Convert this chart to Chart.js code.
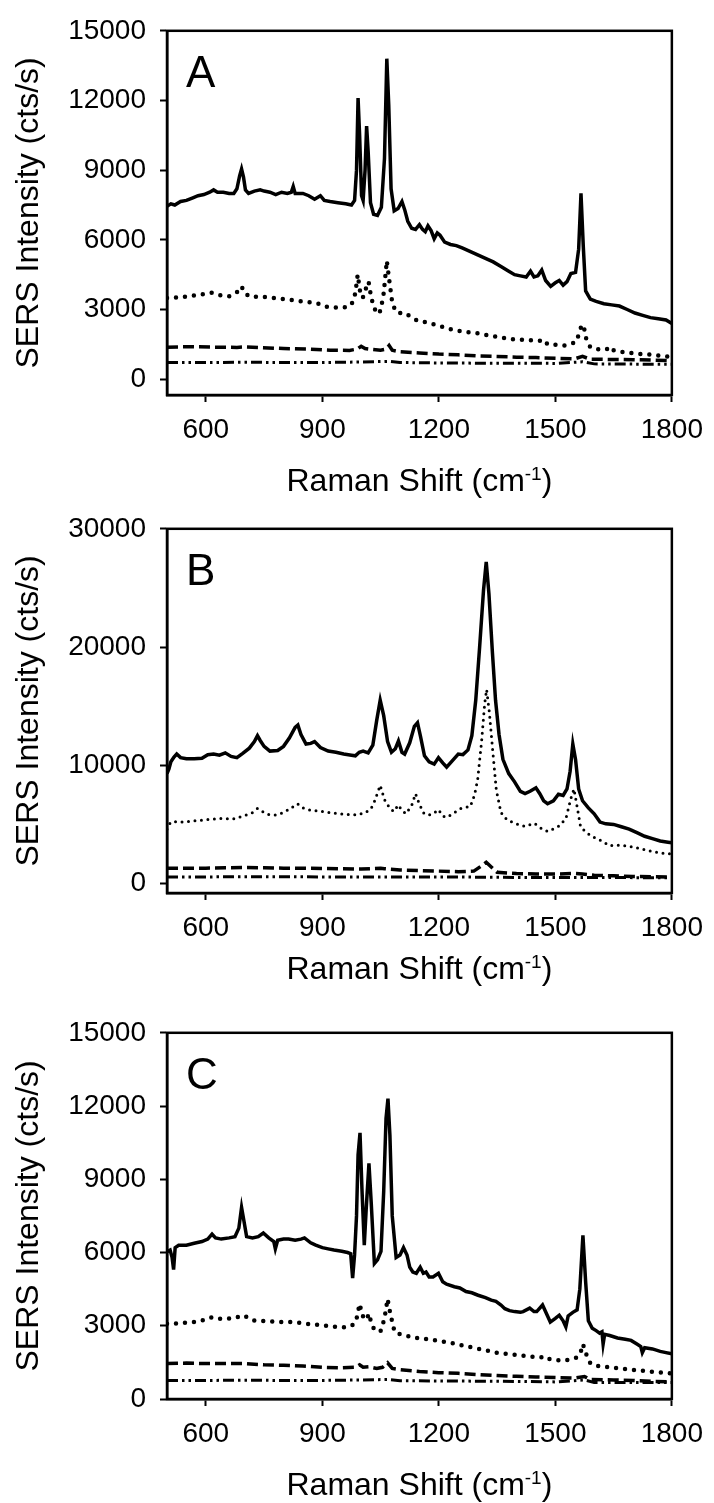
<!DOCTYPE html>
<html>
<head>
<meta charset="utf-8">
<script src="https://cdn.jsdelivr.net/npm/chart.js@4.4.0/dist/chart.umd.min.js"></script>
<style>
  html, body { margin: 0; padding: 0; background: #fff; }
  body { width: 714px; height: 1503px; position: relative; overflow: hidden; }
  canvas { position: absolute; left: 0; }
</style>
</head>
<body>
<canvas id="chartA" width="714" height="499" style="top:0px"></canvas>
<canvas id="chartB" width="714" height="489" style="top:498px"></canvas>
<canvas id="chartC" width="714" height="501" style="top:1002px"></canvas>
<script>
// tick labels
const xTicks = [600, 900, 1200, 1500, 1800];
const yTicksA = [0, 3000, 6000, 9000, 12000, 15000];
const yTicksB = [0, 10000, 20000, 30000];
const yTicksC = [0, 3000, 6000, 9000, 12000, 15000];

// ---- panel A ----
const aSolidX = [
  500,510,520,535,550,565,580,595,610,620,
  630,645,660,672,680,687,692,697,702,710,
  725,740,750,765,780,795,810,820,825,830,
  850,865,880,895,905,920,940,960,975,983,
  988,992,996,1001,1005,1010,1014,1018,1024,1032,
  1042,1052,1060,1066,1071,1077,1085,1095,1105,1112,
  1120,1130,1140,1150,1158,1165,1172,1180,1188,1196,
  1203,1215,1230,1245,1260,1280,1300,1320,1340,1360,
  1380,1395,1410,1425,1436,1445,1455,1465,1475,1488,
  1500,1510,1520,1530,1540,1552,1560,1566,1572,1578,
  1590,1605,1625,1645,1665,1685,1705,1725,1745,1765,
  1785,1800];
const aSolidY = [
  7450,7550,7500,7650,7700,7800,7900,7950,8050,8150,
  8050,8050,8000,8000,8200,8750,9050,8700,8150,8000,
  8100,8150,8100,8050,7950,8050,8000,8050,8300,8000,
  8000,7900,7750,7900,7700,7650,7600,7550,7500,7700,
  9000,12100,10500,7900,7700,9000,10900,9800,7600,7100,
  7050,7400,9500,13800,11800,8200,7250,7350,7650,7300,
  6800,6500,6450,6650,6450,6350,6600,6400,6050,6300,
  6200,5900,5800,5750,5650,5500,5350,5200,5050,4850,
  4650,4500,4450,4400,4650,4400,4450,4700,4250,4000,
  4150,4250,4050,4200,4550,4600,5600,8000,5700,3800,
  3450,3350,3250,3200,3150,3000,2850,2750,2650,2600,
  2550,2400];
const aDotX = [
  500,530,560,590,615,640,660,680,692,700,
  715,740,765,800,833,860,885,910,936,960,
  975,985,991,997,1004,1012,1019,1026,1034,1042,
  1050,1058,1066,1072,1080,1089,1100,1114,1130,1148,
  1170,1200,1230,1260,1300,1340,1387,1430,1463,1470,
  1480,1500,1523,1545,1553,1561,1568,1574,1580,1590,
  1617,1635,1642,1650,1680,1710,1750,1800];
const aDotY = [
  3500,3520,3580,3650,3720,3600,3570,3750,4000,3700,
  3550,3550,3520,3450,3380,3320,3280,3120,3080,3100,
  3200,3700,4500,3800,3500,3900,4200,3500,3050,2800,
  2950,3700,5100,4300,3300,2900,2850,2850,2650,2500,
  2450,2300,2150,2050,1980,1850,1730,1680,1650,1700,
  1500,1480,1450,1550,1600,1950,2350,2200,1700,1380,
  1260,1300,1400,1250,1150,1100,1050,950];
const aDashX = [500,560,620,680,700,740,800,860,920,970,
  990,1000,1010,1030,1050,1065,1072,1080,1100,1150,
  1200,1250,1300,1350,1400,1450,1500,1550,1570,1590,
  1650,1700,1750,1800];
const aDashY = [1380,1400,1380,1370,1390,1360,1320,1300,1250,1240,
  1300,1420,1320,1280,1250,1300,1450,1250,1180,1130,
  1080,1050,1000,980,950,930,900,880,980,860,
  850,840,820,800];
const aDashDotX = [500,600,700,800,900,1000,1050,1072,1100,1200,1300,1400,1500,1570,1600,1700,1800];
const aDashDotY = [720,720,730,720,720,740,760,770,720,700,690,690,680,750,660,650,640];

// ---- panel B ----
const bSolidX = [
  500,505,510,518,525,535,550,570,590,605,
  620,635,650,665,680,695,712,725,733,740,
  750,765,785,800,815,830,837,845,858,870,
  880,895,915,935,955,975,985,995,1005,1018,
  1030,1040,1049,1058,1068,1078,1088,1096,1105,1112,
  1125,1137,1145,1153,1163,1175,1188,1199,1210,1220,
  1235,1250,1262,1275,1285,1295,1305,1315,1322,1329,
  1338,1346,1355,1365,1380,1395,1410,1422,1435,1450,
  1460,1470,1480,1495,1508,1520,1530,1538,1545,1552,
  1560,1570,1585,1600,1615,1630,1650,1670,1690,1710,
  1730,1750,1770,1790,1800];
const bSolidY = [
  9300,9700,10300,10700,10950,10650,10550,10550,10600,10900,
  10950,10850,11050,10750,10650,11000,11450,12000,12500,12100,
  11600,11200,11250,11600,12300,13200,13400,12600,11800,11850,
  12000,11500,11200,11100,10950,10850,10800,11100,11200,11050,
  11700,13800,15500,14200,12000,11100,11400,12050,11100,10950,
  11900,13300,13600,12400,10800,10300,10100,10650,10200,9850,
  10400,10950,10900,11300,12500,15500,20000,24800,27200,24500,
  19500,15500,12600,10500,9300,8600,7800,7600,7800,8100,
  7600,7000,6750,7000,7550,7450,8000,9500,11800,10500,
  8000,7000,6400,5900,5200,5050,5000,4800,4600,4300,
  4000,3800,3600,3500,3450];
const bDotX = [
  500,505,512,540,570,600,640,670,700,720,
  733,745,760,780,800,820,836,850,870,900,
  930,960,990,1010,1025,1035,1049,1060,1075,1085,
  1095,1105,1115,1130,1140,1150,1162,1175,1185,1199,
  1210,1221,1240,1259,1281,1292,1300,1310,1318,1323,
  1330,1338,1348,1360,1375,1395,1421,1446,1462,1480,
  1500,1514,1528,1540,1548,1556,1565,1580,1600,1620,
  1640,1660,1690,1720,1750,1780,1800];
const bDotY = [
  4600,5000,5250,5200,5300,5400,5500,5450,5750,6000,
  6350,6100,5850,5800,6000,6400,6750,6400,6200,6100,
  5950,5850,5800,6000,6300,7000,8300,7100,6300,6100,
  6650,6200,5900,6600,7600,6700,5900,5800,5900,6250,
  5700,5600,6000,6400,6500,7500,8800,12000,15200,16400,
  14500,11500,7900,6000,5400,5100,4830,5100,4700,4400,
  4700,4950,5600,7200,8000,6500,4800,4300,3900,3600,
  3200,3250,3150,2950,2700,2550,2500];
const bDashX = [500,550,600,650,700,750,800,850,900,950,
  1000,1050,1060,1100,1150,1200,1250,1290,1310,1322,
  1335,1350,1400,1450,1500,1550,1570,1600,1650,1700,
  1750,1800];
const bDashY = [1300,1300,1300,1330,1350,1330,1300,1300,1280,1250,
  1220,1300,1250,1150,1100,1050,1000,1050,1500,1800,
  1400,950,850,800,800,850,800,700,650,600,
  580,550];
const bDashDotX = [500,600,700,800,900,1000,1100,1200,1300,1400,1500,1600,1700,1800];
const bDashDotY = [560,560,580,580,560,560,560,560,540,520,520,510,500,500];

// ---- panel C ----
const cSolidX = [
  500,508,513,517,521,530,550,570,590,605,
  616,625,640,660,675,685,692,698,705,720,
  735,748,762,775,779,785,800,813,830,845,
  854,870,883,900,915,930,950,965,973,978,
  983,988,992,997,1002,1008,1013,1020,1026,1034,
  1042,1051,1058,1064,1069,1074,1080,1090,1100,1109,
  1118,1125,1133,1142,1152,1160,1167,1175,1185,1199,
  1210,1220,1240,1254,1270,1285,1301,1320,1335,1347,
  1360,1370,1382,1395,1410,1417,1434,1445,1452,1467,
  1477,1487,1500,1510,1520,1527,1533,1545,1556,1563,
  1571,1578,1585,1595,1605,1614,1620,1623,1627,1640,
  1660,1680,1695,1710,1720,1724,1730,1750,1770,1785,
  1800];
const cSolidY = [
  6030,6100,5800,5300,6200,6300,6300,6380,6450,6550,
  6750,6600,6550,6600,6650,7000,7850,7300,6650,6600,
  6650,6800,6600,6450,6150,6500,6550,6550,6500,6550,
  6600,6400,6300,6200,6150,6100,6050,6000,5950,4950,
  5900,7500,10000,10900,8600,6300,7800,9650,8000,5550,
  5700,6050,8500,11500,12300,10800,7500,5800,5900,6200,
  5900,5400,5200,5150,5400,5150,5200,5000,5000,5150,
  4800,4700,4600,4550,4400,4350,4250,4150,4050,4000,
  3850,3700,3620,3580,3550,3580,3720,3580,3580,3850,
  3500,3150,3300,3430,3200,2950,3400,3550,3650,4500,
  6700,4800,3200,2900,2800,2700,2750,2250,2650,2600,
  2500,2450,2400,2250,2150,1900,2100,2050,1950,1900,
  1850];
const cDotX = [
  500,530,570,600,616,640,670,697,721,760,
  800,825,860,906,940,964,980,987,996,1002,
  1008,1015,1020,1027,1034,1043,1051,1060,1068,1075,
  1086,1100,1115,1140,1173,1200,1231,1260,1289,1320,
  1347,1375,1405,1430,1463,1470,1480,1500,1521,1540,
  1556,1565,1571,1577,1585,1591,1610,1637,1670,1695,
  1730,1760,1800];
const cDotY = [
  3080,3100,3150,3250,3350,3280,3300,3430,3220,3180,
  3150,3150,3080,3010,2950,2940,3050,3200,3900,3500,
  3250,3300,3500,3050,2850,2750,2800,3300,4100,3500,
  2750,2650,2600,2500,2450,2380,2300,2200,2100,2000,
  1900,1850,1800,1750,1700,1750,1650,1600,1570,1620,
  1700,1900,2250,1950,1600,1450,1350,1300,1250,1200,
  1150,1100,1050];
const cDashX = [500,550,600,650,700,750,800,850,900,950,
  985,996,1005,1020,1040,1055,1068,1080,1100,1150,
  1200,1250,1300,1350,1400,1450,1500,1550,1575,1590,
  1650,1700,1750,1800];
const cDashY = [1450,1470,1450,1450,1450,1400,1380,1350,1300,1280,
  1300,1400,1300,1320,1250,1300,1480,1250,1200,1130,
  1080,1050,1000,960,930,900,880,860,920,800,
  780,760,720,700];
const cDashDotX = [500,600,700,800,900,1000,1070,1100,1200,1300,1400,1500,1575,1600,1700,1800];
const cDashDotY = [760,760,770,760,760,780,800,750,740,730,720,700,780,680,680,680];

const FONT = '"Liberation Sans", Arial, Helvetica, sans-serif';

const lineStyles = {
  solid:   { borderWidth: 3.5, borderDash: [], borderCapStyle: 'butt' },
  dot:     { borderWidth: 4.5, borderDash: [0, 9], borderCapStyle: 'round' },
  fineDot: { borderWidth: 3, borderDash: [0, 6.5], borderCapStyle: 'round' },
  dash:    { borderWidth: 3.5, borderDash: [11, 5], borderCapStyle: 'butt' },
  dashDot: { borderWidth: 3, borderDash: [11, 4, 2.5, 4, 2.5, 4], borderCapStyle: 'butt' }
};

function series(xs, ys, style) {
  return Object.assign({
    data: xs.map((x, i) => ({ x: x, y: ys[i] })),
    borderColor: '#000',
    pointRadius: 0,
    tension: 0,
    fill: false
  }, lineStyles[style]);
}

// frame, panel letter and x title with superscript
const panelDecor = {
  id: 'panelDecor',
  afterDraw(chart, args, opts) {
    const ctx = chart.ctx, a = chart.chartArea;
    ctx.save();
    ctx.strokeStyle = '#000';
    ctx.lineWidth = 2.5;
    ctx.strokeRect(a.left, a.top, a.right - a.left, a.bottom - a.top);

    ctx.fillStyle = '#000';
    ctx.textAlign = 'left';
    ctx.textBaseline = 'alphabetic';
    ctx.font = '44px ' + FONT;
    ctx.fillText(opts.letter, a.left + 19, a.top + 56);

    const main = 'Raman Shift (cm', sup = '-1', tail = ')';
    ctx.font = '32px ' + FONT;
    const w1 = ctx.measureText(main).width;
    const w3 = ctx.measureText(tail).width;
    ctx.font = '19px ' + FONT;
    const w2 = ctx.measureText(sup).width;
    let x = (a.left + a.right) / 2 - (w1 + w2 + w3) / 2;
    const y = chart.height - 8;
    ctx.font = '32px ' + FONT;
    ctx.fillText(main, x, y);
    x += w1;
    ctx.font = '19px ' + FONT;
    ctx.fillText(sup, x, y - 11);
    x += w2;
    ctx.font = '32px ' + FONT;
    ctx.fillText(tail, x, y);
    ctx.restore();
  }
};

function makePanel(id, letter, datasets, yMin, yMax, yTicks, axisHeight) {
  return new Chart(document.getElementById(id), {
    type: 'line',
    data: { datasets: datasets },
    options: {
      responsive: false,
      animation: false,
      events: [],
      layout: { padding: { top: 25, right: 38, left: 0, bottom: 0 } },
      plugins: {
        legend: { display: false },
        tooltip: { enabled: false },
        panelDecor: { letter: letter }
      },
      scales: {
        x: {
          type: 'linear',
          min: 500,
          max: 1800,
          afterBuildTicks: s => { s.ticks = xTicks.map(v => ({ value: v })); },
          afterFit: s => { s.height = axisHeight; },
          grid: { drawOnChartArea: false, drawTicks: true, tickLength: 7, tickColor: '#000', tickWidth: 2 },
          border: { display: true, color: '#000', width: 2.5 },
          ticks: {
            autoSkip: false,
            maxRotation: 0,
            padding: 11,
            color: '#000',
            font: { family: FONT, size: 28 },
            callback: v => String(v)
          }
        },
        y: {
          type: 'linear',
          min: yMin,
          max: yMax,
          afterBuildTicks: s => { s.ticks = yTicks.map(v => ({ value: v })); },
          afterFit: s => { s.width = 167; },
          grid: { drawOnChartArea: false, drawTicks: true, tickLength: 7, tickColor: '#000', tickWidth: 2 },
          border: { display: true, color: '#000', width: 2.5 },
          ticks: {
            padding: 14,
            color: '#000',
            font: { family: FONT, size: 28 },
            callback: v => String(v)
          },
          title: {
            display: true,
            text: 'SERS Intensity (cts/s)',
            color: '#000',
            font: { family: FONT, size: 32 },
            padding: { top: 10, bottom: 0 }
          }
        }
      }
    },
    plugins: [panelDecor]
  });
}

makePanel('chartA', 'A', [
  series(aSolidX, aSolidY, 'solid'),
  series(aDotX, aDotY, 'dot'),
  series(aDashX, aDashY, 'dash'),
  series(aDashDotX, aDashDotY, 'dashDot')
], -680, 15000, yTicksA, 104);

makePanel('chartB', 'B', [
  series(bSolidX, bSolidY, 'solid'),
  series(bDotX, bDotY, 'fineDot'),
  series(bDashX, bDashY, 'dash'),
  series(bDashDotX, bDashDotY, 'dashDot')
], -800, 30000, yTicksB, 94);

makePanel('chartC', 'C', [
  series(cSolidX, cSolidY, 'solid'),
  series(cDotX, cDotY, 'dot'),
  series(cDashX, cDashY, 'dash'),
  series(cDashDotX, cDashDotY, 'dashDot')
], 0, 15000, yTicksC, 104);
</script>
</body>
</html>
